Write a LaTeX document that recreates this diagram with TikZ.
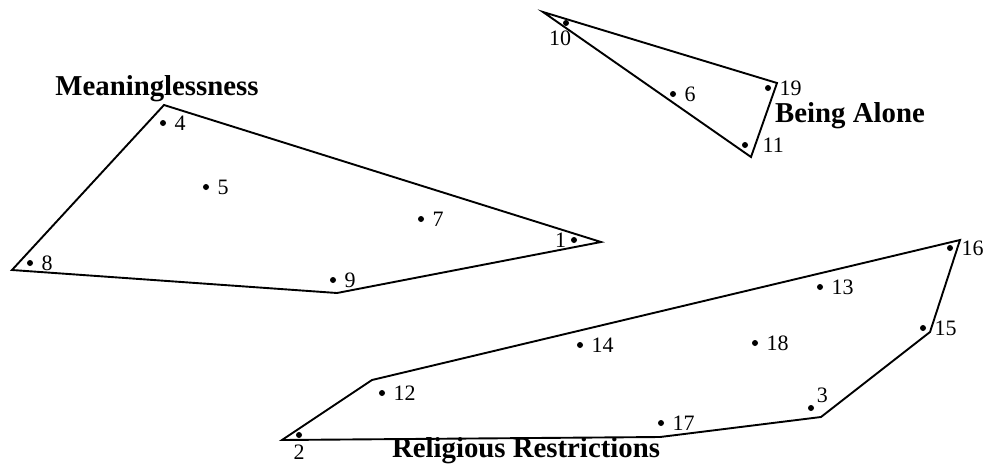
\documentclass[tikz,border=0pt]{standalone}
\usepackage{fontspec}
\setmainfont{Liberation Serif}
\usepackage{tikz}

\begin{document}
\begin{tikzpicture}[
  x=0.5pt, y=-0.5pt, line width=0.95pt, line join=miter,
  pt/.style={circle,fill,inner sep=0pt,minimum size=3pt},
  num/.style={font=\fontsize{11}{13}\selectfont},
  cluster/.style={font=\fontsize{14.4}{17}\selectfont\bfseries,inner sep=0pt,anchor=base}
]
  \useasboundingbox (0,0) rectangle (990,472);
  % points
  \node[pt,label={[num,inner sep=1.5pt]left:1}] (p1) at (574,240) {};
  \node[pt,label={[num,inner sep=2.5pt]below:2}] (p2) at (299,435) {};
  \node[pt,label={[num,inner sep=1pt]above right:3}] (p3) at (811,408) {};
  \node[pt,label={[num]right:4}] (p4) at (163,123) {};
  \node[pt,label={[num]right:5}] (p5) at (206,187) {};
  \node[pt,label={[num]right:6}] (p6) at (673,94) {};
  \node[pt,label={[num]right:7}] (p7) at (421,219) {};
  \node[pt,label={[num]right:8}] (p8) at (30,263) {};
  \node[pt,label={[num]right:9}] (p9) at (333,280) {};
  \node[pt,label={[num,inner sep=1.5pt,xshift=-3pt]below:10}] (p10) at (566,23) {};
  \node[pt,label={[num,label distance=3pt]right:11}] (p11) at (745,145) {};
  \node[pt,label={[num]right:12}] (p12) at (382,393) {};
  \node[pt,label={[num]right:13}] (p13) at (820,287) {};
  \node[pt,label={[num]right:14}] (p14) at (580,345) {};
  \node[pt,label={[num]right:15}] (p15) at (923,328) {};
  \node[pt,label={[num]right:16}] (p16) at (950,248) {};
  \node[pt,label={[num]right:17}] (p17) at (661,423) {};
  \node[pt,label={[num]right:18}] (p18) at (755,343) {};
  \node[pt,label={[num]right:19}] (p19) at (768,88) {};
  % hull corners
  \coordinate (m1) at (164,105);
  \coordinate (m2) at (601,242);
  \coordinate (m3) at (337,293);
  \coordinate (m4) at (12,270);
  \coordinate (b1) at (543,12);
  \coordinate (b2) at (777,83);
  \coordinate (b3) at (751,157);
  \coordinate (r1) at (282,440);
  \coordinate (r2) at (372,380);
  \coordinate (r3) at (960,240);
  \coordinate (r4) at (930,332);
  \coordinate (r5) at (821,417);
  \coordinate (r6) at (660,437);
  \draw (m1) -- (m2) -- (m3) -- (m4) -- cycle;
  \draw (b1) -- (b2) -- (b3) -- cycle;
  \draw (r1) -- (r2) -- (r3) -- (r4) -- (r5) -- (r6) -- cycle;
  % cluster names
  \node[cluster] (meaning) at (157,95) {Meaninglessness};
  \node[cluster] (alone) at (850,122) {Being Alone};
  \node[cluster] (relig) at (526,457) {Religious Restrictions};
\end{tikzpicture}
\end{document}
